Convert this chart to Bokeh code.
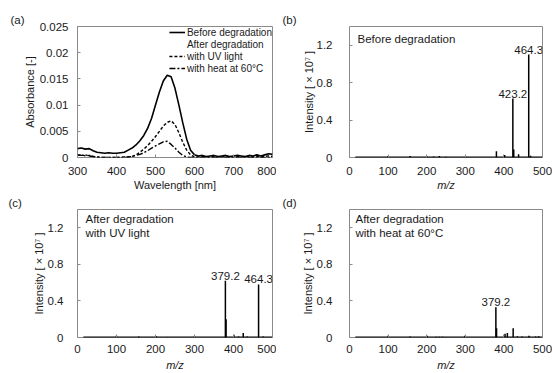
from bokeh.plotting import figure
from bokeh.layouts import column, row
from bokeh.models import (Range1d, FixedTicker, Label, Legend, LegendItem,
                          CustomJSTickFormatter)
from bokeh.core.properties import value
from bokeh.embed import file_html
from bokeh.resources import INLINE

FONT = "Liberation Sans"
TXT = "#1a1a1a"
FRAME = "#8a8a8a"

# ---------------- data ----------------
wavelength = [300, 310, 320, 330, 340, 350, 360, 370, 380, 390,
              400, 410, 420, 430, 440, 450, 460, 470, 480, 490,
              500, 510, 520, 530, 540, 550, 560, 570, 580, 590,
              600, 610, 620, 630, 640, 650, 660, 670, 680, 690,
              700, 710, 720, 730, 740, 750, 760, 770, 780, 790, 800]
abs_before = [0.0017, 0.0018, 0.0016, 0.0017, 0.0013, 0.0010, 0.0009, 0.0008, 0.0009, 0.0008,
              0.0008, 0.0009, 0.0010, 0.0014, 0.0018, 0.0024, 0.0032, 0.0042, 0.0056, 0.0075,
              0.0100, 0.0125, 0.0146, 0.0157, 0.0154, 0.0132, 0.0100, 0.0066, 0.0035, 0.0014,
              0.0005, 0.0003, 0.0004, 0.0002, 0.0003, 0.0004, 0.0002, 0.0003, 0.0004, 0.0002,
              0.0003, 0.0004, 0.0003, 0.0002, 0.0004, 0.0003, 0.0005, 0.0003, 0.0005, 0.0007, 0.0006]
abs_uv = [0.0004, 0.0005, 0.0003, 0.0004, 0.0002, 0.0001, 0.0000, 0.0000, 0.0000, 0.0000,
          0.0000, 0.0000, 0.0001, 0.0001, 0.0002, 0.0005, 0.0010, 0.0016, 0.0023, 0.0031,
          0.0040, 0.0050, 0.0060, 0.0067, 0.0070, 0.0063, 0.0047, 0.0029, 0.0014, 0.0005,
          0.0001, 0.0001, 0.0002, 0.0001, 0.0001, 0.0002, 0.0001, 0.0001, 0.0002, 0.0001,
          0.0001, 0.0002, 0.0001, 0.0001, 0.0002, 0.0001, 0.0002, 0.0001, 0.0002, 0.0003, 0.0002]
abs_heat = [0.0005, 0.0004, 0.0005, 0.0003, 0.0002, 0.0001, 0.0000, 0.0000, 0.0000, 0.0000,
            0.0000, 0.0000, 0.0000, 0.0001, 0.0002, 0.0004, 0.0006, 0.0009, 0.0013, 0.0018,
            0.0022, 0.0026, 0.0030, 0.0031, 0.0025, 0.0018, 0.0010, 0.0004, 0.0001, 0.0000,
            0.0000, 0.0000, 0.0000, 0.0000, 0.0000, 0.0000, 0.0000, 0.0000, 0.0000, 0.0000,
            0.0000, 0.0000, 0.0000, 0.0000, 0.0000, 0.0000, 0.0000, 0.0000, 0.0000, 0.0000, 0.0000]
legend_labels = ["Before degradation", "After degradation", "with UV light", "with heat at 60\u00b0C"]
panel_tags = ["(a)", "(b)", "(c)", "(d)"]

abs_ticks = [0, 0.005, 0.01, 0.015, 0.02, 0.025]
wl_ticks = [300, 400, 500, 600, 700, 800]
mz_ticks = [0, 100, 200, 300, 400, 500]
int_ticks = [0, 0.4, 0.8, 1.2]

baseline_mz = [15, 500]
baseline_int = [0.0, 0.0]

b_mz = [100, 157, 201, 218, 233, 250, 301, 380.6, 402, 423.2, 425.5, 438, 464.3, 469]
b_int = [0.015, 0.015, 0.012, 0.012, 0.015, 0.008, 0.012, 0.068, 0.028, 0.63, 0.085, 0.035, 1.10, 0.02]
b_peak_mz = [423.2, 464.3]
b_peak_int = [0.63, 1.10]
b_peak_text = ["423.2", "464.3"]

c_mz = [100, 157, 202, 230, 300, 379.2, 381, 401, 413, 425, 435, 464.3, 476]
c_int = [0.02, 0.01, 0.015, 0.006, 0.015, 0.62, 0.20, 0.03, 0.012, 0.05, 0.012, 0.58, 0.012]
c_peak_mz = [379.2, 464.3]
c_peak_int = [0.62, 0.58]
c_peak_text = ["379.2", "464.3"]

d_mz = [100, 157, 201, 225, 233, 241, 250, 299, 379.2, 381, 403, 409, 424, 435, 447, 465, 482, 490]
d_int = [0.02, 0.012, 0.02, 0.008, 0.008, 0.008, 0.006, 0.02, 0.33, 0.10, 0.04, 0.05, 0.10,
         0.015, 0.01, 0.02, 0.01, 0.015]
d_peak_mz = [379.2]
d_peak_int = [0.33]
d_peak_text = ["379.2"]

# ---------------- layout constants ----------------
TOP_H, BOT_H = 193, 180
TOP_BT, TOP_BB = 26, 36
BOT_BT, BOT_BB = 14, 36
LW, RW = 276, 276
L_BL, L_BR = 77, 4
R_BL, R_BR = 73, 10

fmt = CustomJSTickFormatter(code="return String(Number(tick.toFixed(4)));")


def make_fig(w, h, bl, br, bt, bb, xr, yr, tag, tag_off, tag_std):
    p = figure(width=w, height=h, x_range=Range1d(*xr), y_range=Range1d(*yr),
               output_backend="svg", toolbar_location=None, title=tag,
               min_border_left=bl, min_border_right=br,
               min_border_top=bt, min_border_bottom=bb)
    p.outline_line_color = FRAME
    p.outline_line_width = 1
    p.grid.visible = False
    p.background_fill_color = "white"
    p.border_fill_color = "white"
    p.title.align = "left"
    p.title.offset = tag_off
    p.title.standoff = tag_std
    p.title.text_font = FONT
    p.title.text_font_size = "11.5px"
    p.title.text_font_style = "normal"
    p.title.text_color = TXT
    return p


def style_axes(p, xlabel, ylabel, xticks, yticks, x_std, x_lstd, y_std, y_lstd, italic_x=False):
    for ax in (p.xaxis[0], p.yaxis[0]):
        ax.axis_line_color = None
        ax.major_tick_in = 3
        ax.major_tick_out = 0
        ax.major_tick_line_color = FRAME
        ax.minor_tick_line_color = None
        ax.major_label_text_font = FONT
        ax.major_label_text_font_size = "11.5px"
        ax.major_label_text_color = TXT
        ax.axis_label_text_font = FONT
        ax.axis_label_text_font_size = "11px"
        ax.axis_label_text_color = TXT
        ax.axis_label_text_font_style = "normal"
        ax.formatter = fmt
    p.xaxis[0].ticker = FixedTicker(ticks=xticks)
    p.yaxis[0].ticker = FixedTicker(ticks=yticks)
    p.xaxis[0].axis_label = xlabel
    p.yaxis[0].axis_label = ylabel
    if italic_x:
        p.xaxis[0].axis_label_text_font_style = "italic"
    p.xaxis[0].major_label_standoff = x_std
    p.xaxis[0].axis_label_standoff = x_lstd
    p.yaxis[0].major_label_standoff = y_std
    p.yaxis[0].axis_label_standoff = y_lstd


def add_label(p, text, x, y, size="11.5px"):
    p.add_layout(Label(x=x, y=y, x_units="screen", y_units="screen", text=text,
                       text_font=FONT, text_font_size=size, text_color=TXT,
                       text_align="left", text_baseline="middle"))


def add_spectrum(p, mz, inten, pk_mz, pk_int, pk_text):
    p.line(baseline_mz, baseline_int, line_color="black", line_width=2)
    p.segment(x0=mz, y0=0, x1=mz, y1=inten, line_color="black", line_width=1.5)
    p.text(x=pk_mz, y=pk_int, text=pk_text, text_font=value(FONT),
           text_font_size="11.5px", text_color=TXT, text_align="center",
           text_baseline="bottom", y_offset=-1)


fa_h = TOP_H - TOP_BT - TOP_BB
fc_h = BOT_H - BOT_BT - BOT_BB

# ---------------- panel (a) ----------------
pa = make_fig(LW, TOP_H, L_BL, L_BR, TOP_BT, TOP_BB, (300, 800), (0, 0.025), panel_tags[0], -67, 2)
style_axes(pa, "Wavelength [nm]", "Absorbance [-]", wl_ticks, abs_ticks, 9, 1, 9, 1)
r_before = pa.line(wavelength, abs_before, line_color="black", line_width=1.6)
r_head = pa.line(wavelength, abs_before, line_color="black", line_alpha=0)
r_uv = pa.line(wavelength, abs_uv, line_color="black", line_width=1.4, line_dash="3 2")
r_heat = pa.line(wavelength, abs_heat, line_color="black", line_width=1.4, line_dash="6 2 2 2")
leg = Legend(items=[LegendItem(label=legend_labels[0], renderers=[r_before]),
                    LegendItem(label=legend_labels[1], renderers=[r_head]),
                    LegendItem(label=legend_labels[2], renderers=[r_uv]),
                    LegendItem(label=legend_labels[3], renderers=[r_heat])],
             location="top_right")
leg.label_text_font = FONT
leg.label_text_font_size = "10px"
leg.label_text_color = TXT
leg.label_height = 12
leg.glyph_height = 12
leg.glyph_width = 16
leg.label_standoff = 2
leg.spacing = 0
leg.padding = 1
leg.margin = 0
leg.border_line_color = None
leg.background_fill_alpha = 0
pa.add_layout(leg)

# ---------------- panel (b) ----------------
pb = make_fig(RW, TOP_H, R_BL, R_BR, TOP_BT, TOP_BB, (0, 500), (0, 1.4), panel_tags[1], -67, 2)
style_axes(pb, "m/z", "Intensity [ \u00d7 10\u2077 ]", mz_ticks, int_ticks, 9, 1, 17, -1, italic_x=True)
add_spectrum(pb, b_mz, b_int, b_peak_mz, b_peak_int, b_peak_text)
add_label(pb, "Before degradation", 8, fa_h - 12)

# ---------------- panel (c) ----------------
pc = make_fig(LW, BOT_H, L_BL, L_BR, BOT_BT, BOT_BB, (0, 500), (0, 1.4), panel_tags[2], -69, 2)
style_axes(pc, "m/z", "Intensity [ \u00d7 10\u2077 ]", mz_ticks, int_ticks, 7, 3, 14, 0, italic_x=True)
add_spectrum(pc, c_mz, c_int, c_peak_mz, c_peak_int, c_peak_text)
add_label(pc, "After degradation", 8, fc_h - 11)
add_label(pc, "with UV light", 8, fc_h - 25)

# ---------------- panel (d) ----------------
pd = make_fig(RW, BOT_H, R_BL, R_BR, BOT_BT, BOT_BB, (0, 500), (0, 1.4), panel_tags[3], -67, 2)
style_axes(pd, "m/z", "Intensity [ \u00d7 10\u2077 ]", mz_ticks, int_ticks, 7, 3, 17, 0, italic_x=True)
add_spectrum(pd, d_mz, d_int, d_peak_mz, d_peak_int, d_peak_text)
add_label(pd, "After degradation", 6, fc_h - 11)
add_label(pd, "with heat at 60\u00b0C", 6, fc_h - 25)

layout = column(row(pa, pb), row(pc, pd))
open("out.html", "w").write(file_html(layout, INLINE))
